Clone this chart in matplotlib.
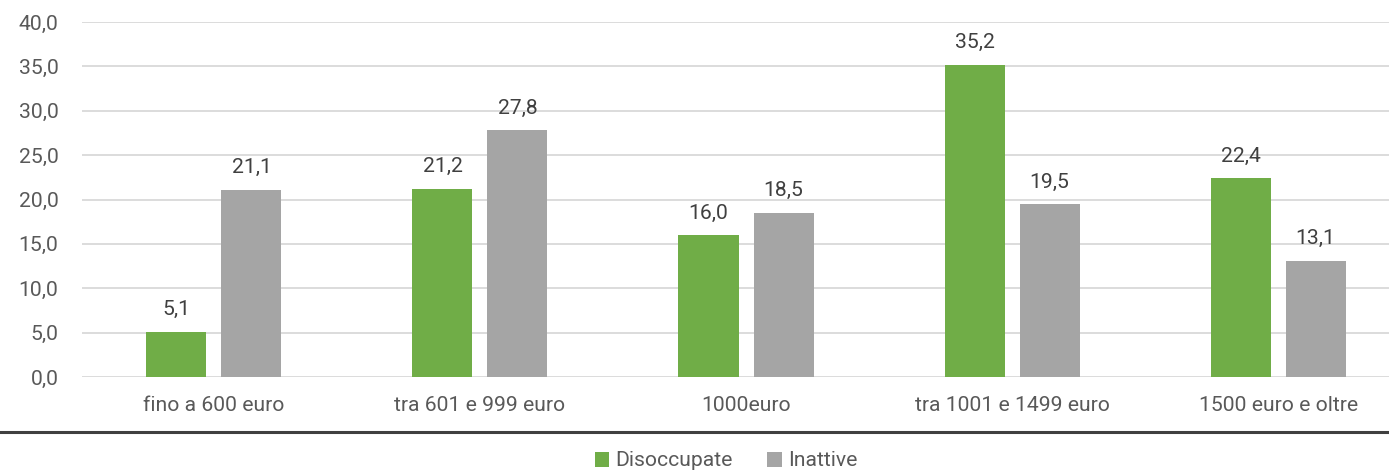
import matplotlib
matplotlib.use("Agg")
import matplotlib.pyplot as plt
import numpy as np

categories = ["fino a 600 euro", "tra 601 e 999 euro", "1000euro", "tra 1001 e 1499 euro", "1500 euro e oltre"]
disoccupate = [5.1, 21.2, 16.0, 35.2, 22.4]
inattive = [21.1, 27.8, 18.5, 19.5, 13.1]
series_names = ["Disoccupate", "Inattive"]
colors = ["#70AD47", "#A5A5A5"]

plt.rcParams['font.family'] = ['Roboto', 'DejaVu Sans']

W, H = 1389, 471
fig = plt.figure(figsize=(W/100, H/100), dpi=100)
ax = fig.add_axes([82/W, 1-377/H, (W-82)/W, (377-22)/H])

FS = 15.2
x = np.arange(len(categories))
bw = 0.2256
off = 0.141
b1 = ax.bar(x - off, disoccupate, bw, color=colors[0], label=series_names[0], zorder=3)
b2 = ax.bar(x + off, inattive, bw, color=colors[1], label=series_names[1], zorder=3)

def fmt(v):
    return f"{v:.1f}".replace(".", ",")

for bars, vals in ((b1, disoccupate), (b2, inattive)):
    for r, v in zip(bars, vals):
        ax.annotate(fmt(v), (r.get_x() + r.get_width()/2, v), xytext=(0, 9),
                    textcoords="offset points", ha="center", va="bottom",
                    fontsize=FS, color="#404040")

ax.set_ylim(0, 40)
ax.set_xlim(-0.496, 4.417)
ax.set_yticks(np.arange(0, 41, 5))
ax.set_yticklabels([fmt(v) for v in np.arange(0, 41, 5)])
ax.set_xticks(x)
ax.set_xticklabels(categories)
ax.tick_params(axis='both', length=0, labelsize=FS, labelcolor="#595959")
ax.tick_params(axis='y', pad=17)
ax.tick_params(axis='x', pad=14)
ax.grid(axis='y', color="#D9D9D9", linewidth=1.3, zorder=0)
for s in ax.spines.values():
    s.set_visible(False)

# dark separator line
fig.add_artist(plt.Line2D([0, 1], [1-432/H, 1-432/H], color="#404040", linewidth=2.2, transform=fig.transFigure))

leg = fig.legend(handles=[b1, b2], labels=series_names, loc='center', bbox_to_anchor=(726/W, 1-461/H),
                 ncol=2, frameon=False, fontsize=FS, handlelength=0.7, handleheight=0.7,
                 handletextpad=0.3, columnspacing=1.6)
for t in leg.get_texts():
    t.set_color("#595959")

fig.savefig("out.png", dpi=100)
